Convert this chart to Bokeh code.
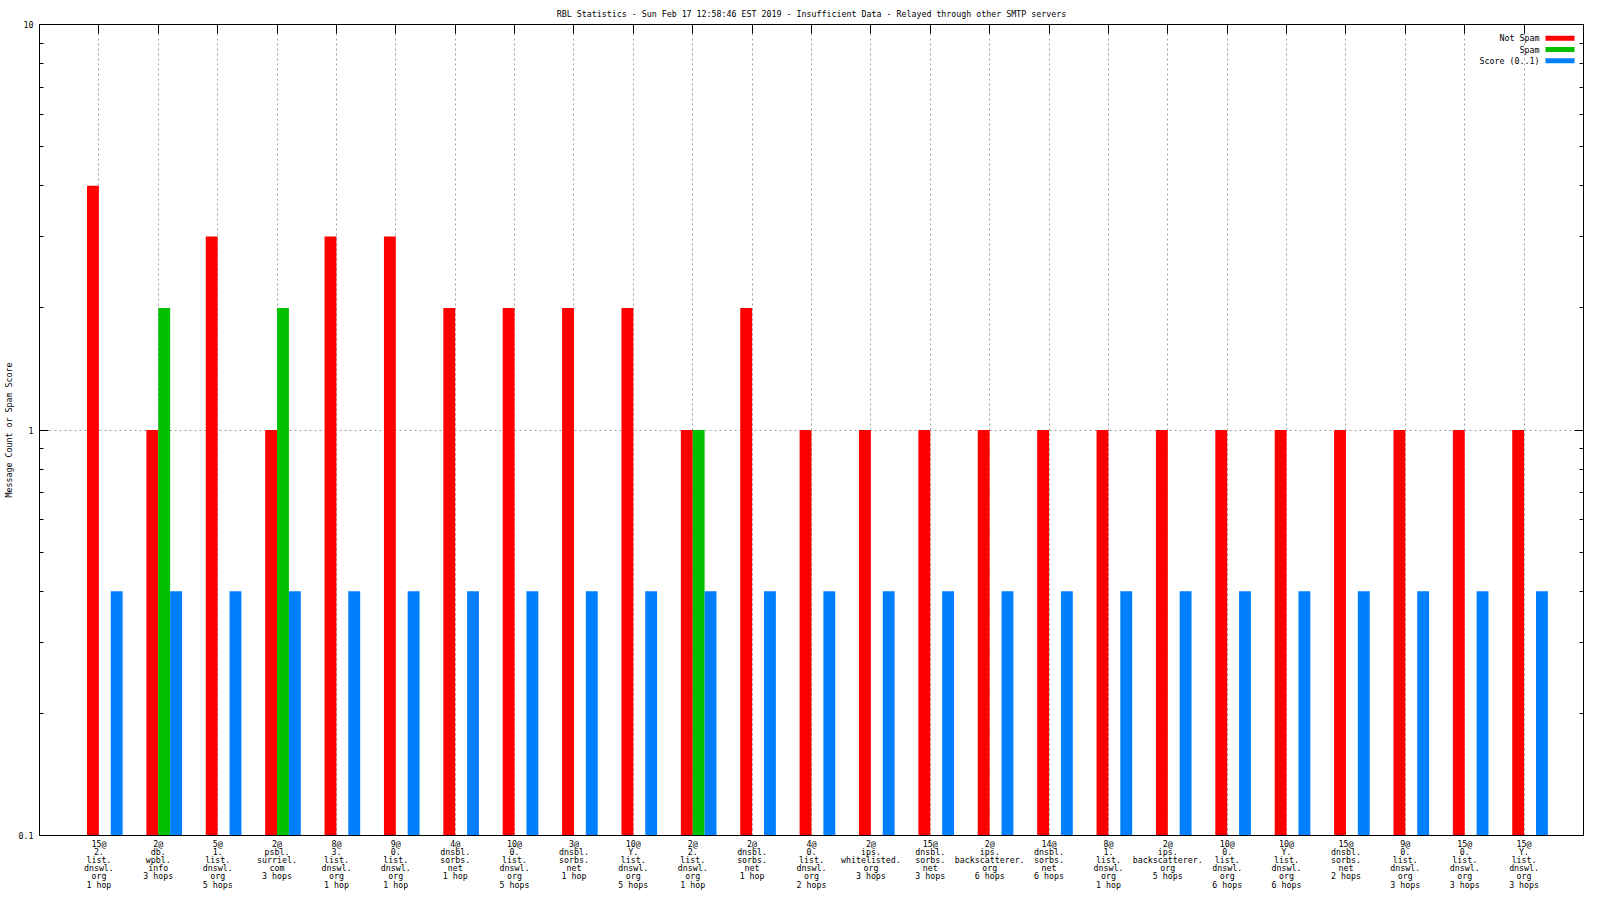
from bokeh.plotting import figure
from bokeh.models import (FixedTicker, LogAxis, LinearAxis, Label, Range1d,
                          ColumnDataSource, BoxAnnotation, CustomJSTickFormatter)
from bokeh.transform import dodge
from bokeh.embed import file_html
from bokeh.resources import INLINE
import math

# ---------------- data ----------------
counts = [15, 2, 5, 2, 8, 9, 4, 10, 3, 10, 2, 2, 4, 2, 15, 2, 14, 8, 2, 10, 10, 15, 9, 15, 15]
hosts = ["2.list.dnswl.org", "db.wpbl.info", "1.list.dnswl.org", "psbl.surriel.com",
         "3.list.dnswl.org", "0.list.dnswl.org", "dnsbl.sorbs.net", "0.list.dnswl.org",
         "dnsbl.sorbs.net", "Y.list.dnswl.org", "2.list.dnswl.org", "dnsbl.sorbs.net",
         "0.list.dnswl.org", "ips.whitelisted.org", "dnsbl.sorbs.net", "ips.backscatterer.org",
         "dnsbl.sorbs.net", "1.list.dnswl.org", "ips.backscatterer.org", "0.list.dnswl.org",
         "Y.list.dnswl.org", "dnsbl.sorbs.net", "0.list.dnswl.org", "0.list.dnswl.org",
         "Y.list.dnswl.org"]
hops = [1, 3, 5, 3, 1, 1, 1, 5, 1, 5, 1, 1, 2, 3, 3, 6, 6, 1, 5, 6, 6, 2, 3, 3, 3]
not_spam = [4, 1, 3, 1, 3, 3, 2, 2, 2, 2, 1, 2, 1, 1, 1, 1, 1, 1, 1, 1, 1, 1, 1, 1, 1]
spam = [0, 2, 0, 2, 0, 0, 0, 0, 0, 0, 1, 0, 0, 0, 0, 0, 0, 0, 0, 0, 0, 0, 0, 0, 0]
score = [0.4, 0.4, 0.4, 0.4, 0.4, 0.4, 0.4, 0.4, 0.4, 0.4, 0.4, 0.4, 0.4,
         0.4, 0.4, 0.4, 0.4, 0.4, 0.4, 0.4, 0.4, 0.4, 0.4, 0.4, 0.4]
series_names = ["Not Spam", "Spam", "Score (0..1)"]
series_colors = ["#ff0000", "#00c000", "#0080ff"]
title_text = "RBL Statistics - Sun Feb 17 12:58:46 EST 2019 - Insufficient Data - Relayed through other SMTP servers"
y_title = "Message Count or Spam Score"

FONT = "DejaVu Sans Mono"
SMALL = "8.3px"

idx = list(range(len(counts)))


def make_label(c, host, h):
    parts = host.split(".")
    lines = [f"{c}@"] + [p + "." for p in parts[:-1]] + [parts[-1]]
    lines.append(f"{h} hop" + ("s" if h > 1 else ""))
    return "\n".join(lines)


labels = {i: make_label(c, hs, h) for i, c, hs, h in zip(idx, counts, hosts, hops)}

src_ns = ColumnDataSource(dict(x=idx, top=not_spam))
src_sp = ColumnDataSource(dict(x=[i for i, v in zip(idx, spam) if v > 0],
                               top=[v for v in spam if v > 0]))
src_sc = ColumnDataSource(dict(x=idx, top=score))

XMIN, XMAX = -1, 25
YMIN, YMAX = 0.1, 10
FW, FH = 1544, 811

p = figure(frame_width=FW, frame_height=FH, y_axis_type="log",
           x_range=Range1d(XMIN, XMAX), y_range=Range1d(YMIN, YMAX),
           output_backend="svg", toolbar_location=None,
           min_border_left=33, min_border_right=7, min_border_top=24, min_border_bottom=50)

p.title.text = title_text
p.title.align = "center"
p.title.text_font = FONT
p.title.text_font_size = SMALL
p.title.text_font_style = "normal"
p.title.text_color = "black"
p.title.standoff = 11
p.title.offset = 0

p.outline_line_color = "black"
p.outline_line_width = 1
p.background_fill_color = "white"
p.border_fill_color = "white"

# grid
xt = FixedTicker(ticks=idx)
yt = FixedTicker(ticks=[0.1, 1, 10],
                 minor_ticks=[0.2, 0.3, 0.4, 0.5, 0.6, 0.7, 0.8, 0.9, 2, 3, 4, 5, 6, 7, 8, 9])
p.xgrid.ticker = xt
p.ygrid.ticker = yt
for g in (p.xgrid[0], p.ygrid[0]):
    g.grid_line_color = "#a0a0a0"
    g.grid_line_dash = "2 3"
    g.grid_line_width = 1

# bottom axis
xa = p.xaxis[0]
xa.ticker = xt
xa.major_label_overrides = labels
xa.major_label_text_font = FONT
xa.major_label_text_font_size = SMALL
xa.major_label_text_color = "black"
xa.major_label_text_line_height = 0.82
xa.major_label_standoff = 3
xa.major_tick_in = 0
xa.major_tick_out = 0
xa.minor_tick_line_color = None
xa.axis_line_color = "black"

# left axis
ya = p.yaxis[0]
ya.ticker = yt
ya.formatter = CustomJSTickFormatter(code="return String(tick);")
ya.major_label_text_font = FONT
ya.major_label_text_font_size = SMALL
ya.major_label_text_color = "black"
ya.major_label_standoff = 6
ya.major_tick_in = 9
ya.major_tick_out = 0
ya.minor_tick_in = 4
ya.minor_tick_out = 0
ya.axis_label = y_title
ya.axis_label_text_font = FONT
ya.axis_label_text_font_size = SMALL
ya.axis_label_text_font_style = "normal"
ya.axis_label_text_color = "black"
ya.axis_label_standoff = 2

# mirrored axes (ticks only)
top_ax = LinearAxis(ticker=xt, major_label_text_font_size="0px", major_label_standoff=0,
                    major_tick_in=9, major_tick_out=0, minor_tick_line_color=None,
                    axis_line_color="black")
top_ax.major_label_overrides = {i: "" for i in idx}
p.add_layout(top_ax, "above")
right_ax = LogAxis(ticker=yt, major_label_text_font_size="0px", major_label_standoff=0,
                   major_tick_in=9, major_tick_out=0, minor_tick_in=4, minor_tick_out=0,
                   axis_line_color="black")
right_ax.major_label_overrides = {0.1: "", 1: "", 10: ""}
p.add_layout(right_ax, "right")

# bars
W = 0.2
p.vbar(x=dodge("x", -0.1), top="top", bottom=YMIN, width=W, source=src_ns,
       fill_color=series_colors[0], line_color=None)
p.vbar(x=dodge("x", 0.1), top="top", bottom=YMIN, width=W, source=src_sp,
       fill_color=series_colors[1], line_color=None)
p.vbar(x=dodge("x", 0.3), top="top", bottom=YMIN, width=W, source=src_sc,
       fill_color=series_colors[2], line_color=None)


# legend (top right, text left of sample, as in gnuplot)
def px2x(px):
    return XMIN + (XMAX - XMIN) * px / FW


def py2y(py):
    ly = math.log10(YMAX) - (math.log10(YMAX) - math.log10(YMIN)) * py / FH
    return 10 ** ly


row_py = [13.8, 25.0, 36.2]
for name, col, ry in zip(series_names, series_colors, row_py):
    p.add_layout(Label(x=px2x(1500), y=py2y(ry), text=name, text_align="right",
                       text_baseline="middle", text_font=FONT, text_font_size=SMALL,
                       text_color="black"))
    p.add_layout(BoxAnnotation(left=px2x(1506), right=px2x(1535),
                               top=py2y(ry - 2.5), bottom=py2y(ry + 2.5),
                               fill_color=col, fill_alpha=1, line_color=None))

open("out.html", "w").write(file_html(p, INLINE))
